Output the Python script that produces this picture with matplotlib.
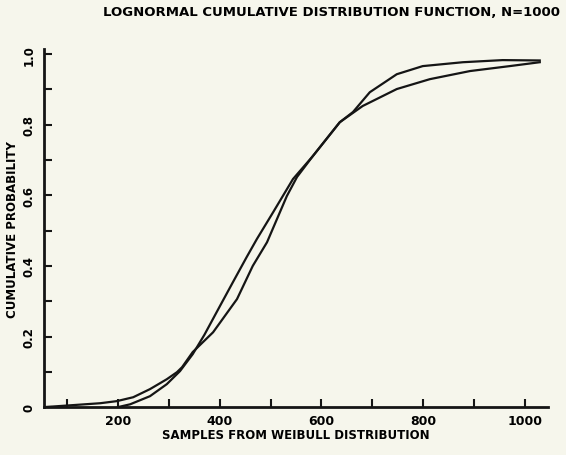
import matplotlib
matplotlib.use('Agg')
import matplotlib.pyplot as plt
from matplotlib.ticker import MultipleLocator

weibull_x = [55, 165, 198, 230, 263, 296, 316, 326, 347, 387, 434, 465, 493, 532,
             552, 583, 636, 662, 695, 748, 799, 878, 956, 1029]
weibull_y = [0.0, 0.011, 0.017, 0.028, 0.051, 0.079, 0.099, 0.113, 0.156, 0.212,
             0.306, 0.400, 0.467, 0.598, 0.652, 0.711, 0.807, 0.836, 0.892, 0.943,
             0.966, 0.977, 0.983, 0.982]

# fitted lognormal CDF
lognorm_x = [200, 224, 263, 296, 322, 347, 370, 400, 426, 453, 473, 505, 544, 583,
             636, 681, 748, 813, 892, 970, 1029]
lognorm_y = [0.0, 0.008, 0.031, 0.065, 0.102, 0.150, 0.205, 0.285, 0.354, 0.425,
             0.476, 0.552, 0.646, 0.711, 0.807, 0.853, 0.901, 0.929, 0.952, 0.966,
             0.977]

bg = '#f6f6ec'
fig = plt.figure(figsize=(5.66, 4.56), dpi=100, facecolor=bg)
ax = fig.add_axes([0.078, 0.105, 0.890, 0.785], facecolor=bg)

ax.plot(weibull_x, weibull_y, color='#151515', lw=1.6)
ax.plot(lognorm_x, lognorm_y, color='#151515', lw=1.6)

ax.set_xlim(55, 1045)
ax.set_ylim(0, 1.014)

for side in ('top', 'right'):
    ax.spines[side].set_visible(False)
for side in ('left', 'bottom'):
    ax.spines[side].set_linewidth(2.0)
    ax.spines[side].set_color('#151515')

ax.xaxis.set_major_locator(MultipleLocator(200))
ax.xaxis.set_minor_locator(MultipleLocator(100))
ax.yaxis.set_major_locator(MultipleLocator(0.2))
ax.yaxis.set_minor_locator(MultipleLocator(0.1))
ax.tick_params(which='both', direction='in', length=6, width=1.5, color='#151515')
ax.tick_params(axis='x', pad=5)
ax.tick_params(axis='y', pad=6)

ax.set_xticks([200, 400, 600, 800, 1000])
ax.set_xticklabels(['200', '400', '600', '800', '1000'],
                   fontsize=9, fontweight='bold')
ax.set_yticks([0, 0.2, 0.4, 0.6, 0.8, 1.0])
ax.set_yticklabels(['0', '0.2', '0.4', '0.6', '0.8', '1.0'],
                   fontsize=8.5, fontweight='bold', rotation=90, va='center')

ax.set_xlabel('SAMPLES FROM WEIBULL DISTRIBUTION', fontsize=8.5,
              fontweight='bold', labelpad=1)
ax.set_ylabel('CUMULATIVE PROBABILITY', fontsize=8.5, fontweight='bold',
              labelpad=3)
fig.text(0.585, 0.972, 'LOGNORMAL CUMULATIVE DISTRIBUTION FUNCTION, N=1000',
         ha='center', va='center', fontsize=9.5, fontweight='bold')

fig.savefig('out.png', dpi=100, facecolor=bg)
